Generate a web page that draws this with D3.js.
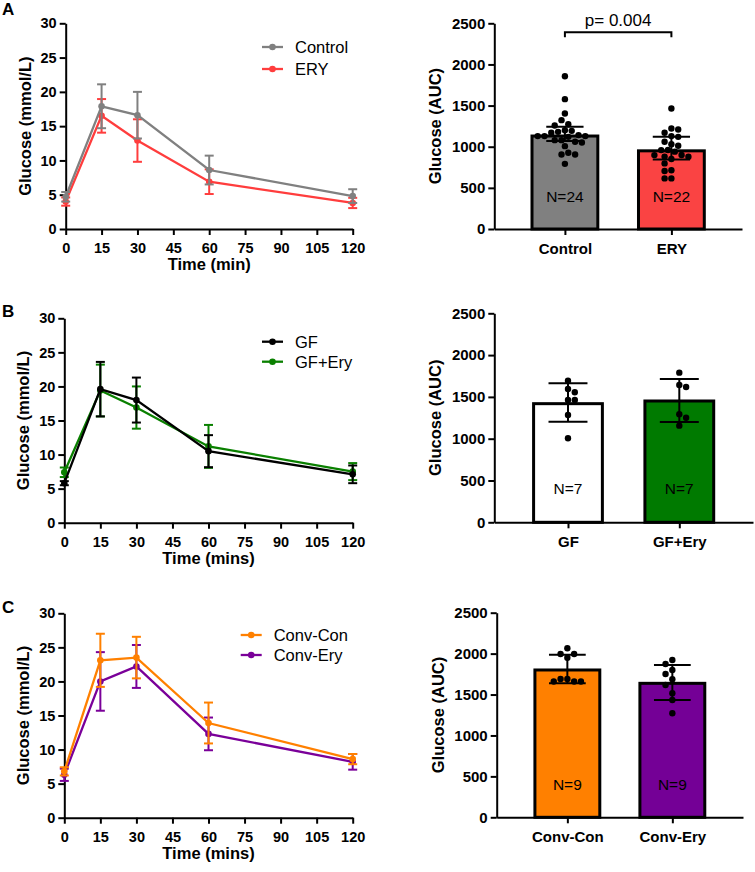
<!DOCTYPE html>
<html><head><meta charset="utf-8">
<script src="https://cdn.jsdelivr.net/npm/d3@7"></script>
<style>body{margin:0;background:#fff} svg{display:block}</style>
</head><body>
<svg id="chart" width="755" height="872"></svg>
<script>
// ---------------- DATA ----------------
const times = [0, 15, 30, 60, 120];
const timeTicks = [0, 15, 30, 45, 60, 75, 90, 105, 120];
const glucoseTicks = [0, 5, 10, 15, 20, 25, 30];
const aucTicks = [0, 500, 1000, 1500, 2000, 2500];

// Panel A (line)
const controlMean = [4.7, 17.9, 16.6, 8.6, 4.8];
const controlSD   = [0.7, 3.2, 3.4, 2.1, 1.0];
const eryMean     = [4.0, 16.5, 12.9, 6.9, 3.8];
const erySD       = [0.6, 2.45, 3.1, 1.8, 0.75];
// Panel B (line)
const gfMean      = [5.8, 19.6, 18.0, 10.5, 7.1];
const gfSD        = [0.3, 4.0, 3.3, 2.35, 1.3];
const gfEryMean   = [7.4, 19.4, 16.9, 11.2, 7.5];
const gfErySD     = [0.7, 3.8, 3.1, 3.15, 1.25];
// Panel C (line)
const convConMean = [6.8, 23.1, 23.5, 13.9, 8.6];
const convConSD   = [0.6, 3.9, 3.05, 3.0, 0.75];
const convEryMean = [6.3, 20.0, 22.2, 12.3, 8.2];
const convErySD   = [0.9, 4.3, 3.15, 2.4, 1.15];

// Panel A (bar)
const barCatsA = ["Control", "ERY"];
const barMeansA = [1130, 950];
const barLowA = [1068, 846];
const barHighA = [1242, 1120];
const barNA = [24, 22];
const controlAUC = [1857,1578,1404,1323,1274,1258,1193,1181,1201,1169,1129,1141,1129,1120,1129,1052,1080,1080,1060,1007,926,906,906,792];
const eryAUC = [1465,1222,1210,1169,1129,1120,1060,1031,1011,960,959,940,900,898,880,878,850,797,714,704,615,615];
const pValueA = "p= 0.004";
// Panel B (bar)
const barCatsB = ["GF", "GF+Ery"];
const barMeansB = [1419, 1451];
const barLowB = [1203, 1200];
const barHighB = [1663, 1714];
const barNB = [7, 7];
const gfAUC = [1694,1594,1555,1463,1463,1283,1005];
const gfEryAUC = [1790,1642,1618,1292,1251,1156];
// Panel C (bar)
const barCatsC = ["Conv-Con", "Conv-Ery"];
const barMeansC = [1800, 1637];
const barLowC = [1637, 1433];
const barHighC = [1987, 1861];
const barNC = [9, 9];
const convConAUC = [2065,1995,1995,1950,1690,1690,1660,1660,1660];
const convEryAUC = [1922,1873,1800,1751,1686,1616,1515,1433,1271];

// ---------------- STYLE / LAYOUT ----------------
const FONT = "'Liberation Sans', Arial, Helvetica, sans-serif";
const svg = d3.select("#chart").style("font-family", FONT);

function styleAxis(a, fs) {
  a.select(".domain").attr("stroke", "#000").attr("stroke-width", 2);
  a.selectAll(".tick line").attr("stroke", "#000").attr("stroke-width", 2);
  a.selectAll(".tick text").attr("fill", "#000").style("font-size", fs + "px")
    .style("font-weight", "bold").style("font-family", FONT);
}

function drawLine(L, series, xTitle, letter) {
  const g = svg.append("g");
  const x = d3.scaleLinear().domain([0, 120]).range([L.x0, L.x1]);
  const y = d3.scaleLinear().domain([0, 30]).range([L.y0, L.y1]);

  const ya = g.append("g").attr("transform", `translate(${L.x0},0)`)
    .call(d3.axisLeft(y).tickValues(glucoseTicks).tickSize(6).tickSizeOuter(0).tickPadding(3));
  styleAxis(ya, 14.5);
  const xa = g.append("g").attr("transform", `translate(0,${L.y0})`)
    .call(d3.axisBottom(x).tickValues(timeTicks).tickSize(6).tickSizeOuter(0).tickPadding(8));
  styleAxis(xa, 14.5);

  series.slice().reverse().forEach(s => {
    const sg = g.append("g");
    const cap = 4.5;
    times.forEach((t, i) => {
      const cx = x(t), yt = y(s.mean[i] + s.sd[i]), yb = y(s.mean[i] - s.sd[i]);
      sg.append("line").attr("x1", cx).attr("x2", cx).attr("y1", yt).attr("y2", yb)
        .attr("stroke", s.color).attr("stroke-width", 2);
      [yt, yb].forEach(yy => sg.append("line").attr("x1", cx - cap).attr("x2", cx + cap)
        .attr("y1", yy).attr("y2", yy).attr("stroke", s.color).attr("stroke-width", 2));
    });
    sg.append("path").datum(times.map((t, i) => [t, s.mean[i]]))
      .attr("d", d3.line().x(d => x(d[0])).y(d => y(d[1])))
      .attr("fill", "none").attr("stroke", s.color).attr("stroke-width", 2.3);
    sg.selectAll("circle").data(times.map((t, i) => [t, s.mean[i]])).join("circle")
      .attr("cx", d => x(d[0])).attr("cy", d => y(d[1])).attr("r", 3.3).attr("fill", s.color);
  });

  // legend
  series.forEach((s, i) => {
    const ly = L.legY + i * L.legGap;
    g.append("line").attr("x1", L.legX).attr("x2", L.legX + 21).attr("y1", ly).attr("y2", ly)
      .attr("stroke", s.color).attr("stroke-width", 2.3);
    g.append("circle").attr("cx", L.legX + 10.5).attr("cy", ly).attr("r", 3.3).attr("fill", s.color);
    g.append("text").attr("x", L.legX + 33).attr("y", ly).attr("dy", "0.36em")
      .style("font-size", "16.5px").attr("fill", "#000").text(s.name);
  });

  g.append("text").attr("x", (L.x0 + L.x1) / 2).attr("y", L.y0 + 41)
    .attr("text-anchor", "middle").style("font-size", "16.5px").style("font-weight", "bold").text(xTitle);
  g.append("text").attr("transform", `translate(${L.x0 - 35},${(L.y0 + L.y1) / 2}) rotate(-90)`)
    .attr("text-anchor", "middle").style("font-size", "16.5px").style("font-weight", "bold")
    .text("Glucose (mmol/L)");
  g.append("text").attr("x", 2).attr("y", L.letterY).style("font-size", "17px")
    .style("font-weight", "bold").text(letter);
}

// GraphPad-like scatter: lattice columns, nearest free column to the centre
function swarm(values, y, cx, r) {
  const D = 2 * r + 0.3;
  const S = 3.4;
  const placed = [];
  const order = values.map((v, i) => i).sort((a, b) => values[b] - values[a]);
  order.forEach((i, n) => {
    const py = y(values[i]);
    let off = 0;
    const sgn = n % 2 === 0 ? 1 : -1;
    for (let k = 0; k < 60; k++) {
      const o = (k === 0 ? 0 : (k % 2 === 1 ? sgn : -sgn) * Math.ceil(k / 2) * S);
      if (placed.every(p => (p.x - o) ** 2 + (p.y - py) ** 2 >= D * D)) { off = o; break; }
    }
    placed.push({ x: off, y: py });
  });
  return placed.map(p => ({ x: cx + p.x, y: p.y }));
}

function drawBar(B, cats, means, lows, highs, ns, pts, fills, pText) {
  const g = svg.append("g");
  const x = d3.scalePoint().domain(cats).range([B.x0, B.x1]).padding(B.pad);
  const y = d3.scaleLinear().domain([0, 2500]).range([B.y0, B.y1]);
  const bw = x.step() * 0.618;
  const cw = x.step() * 0.35;

  cats.forEach((c, i) => {
    g.append("rect").attr("x", x(c) - bw / 2).attr("y", y(means[i]))
      .attr("width", bw).attr("height", y(0) - y(means[i]))
      .attr("fill", fills[i]).attr("stroke", "#000").attr("stroke-width", 3);
    g.append("text").attr("x", x(c)).attr("y", y(400)).attr("dy", "0.36em")
      .attr("text-anchor", "middle").style("font-size", "15.5px").attr("fill", "#000")
      .text("N=" + ns[i]);
  });

  const ya = g.append("g").attr("transform", `translate(${B.x0},0)`)
    .call(d3.axisLeft(y).tickValues(aucTicks).tickFormat(d3.format("d")).tickSize(6).tickSizeOuter(0).tickPadding(3));
  styleAxis(ya, 15);
  const xa = g.append("g").attr("transform", `translate(0,${B.y0})`)
    .call(d3.axisBottom(x).tickSize(6).tickSizeOuter(0).tickPadding(8));
  styleAxis(xa, 15);

  cats.forEach((c, i) => {
    swarm(pts[i], y, x(c), 3.2).forEach(p =>
      g.append("circle").attr("cx", p.x).attr("cy", p.y).attr("r", 3.2).attr("fill", "#000"));
  });
  cats.forEach((c, i) => {
    const cx = x(c);
    g.append("line").attr("x1", cx).attr("x2", cx).attr("y1", y(highs[i])).attr("y2", y(lows[i]))
      .attr("stroke", "#000").attr("stroke-width", 2);
    [highs[i], lows[i]].forEach(v => g.append("line").attr("x1", cx - cw / 2).attr("x2", cx + cw / 2)
      .attr("y1", y(v)).attr("y2", y(v)).attr("stroke", "#000").attr("stroke-width", 2));
  });

  if (pText) {
    const by = B.y1 + 9;
    const xa0 = x(cats[0]), xa1 = x(cats[1]);
    g.append("path").attr("d", `M${xa0},${by + 5}V${by}H${xa1}V${by + 5}`)
      .attr("fill", "none").attr("stroke", "#000").attr("stroke-width", 2);
    g.append("text").attr("x", (xa0 + xa1) / 2).attr("y", by - 6).attr("text-anchor", "middle")
      .style("font-size", "17px").text(pText);
  }

  g.append("text").attr("transform", `translate(${B.x0 - 53},${(B.y0 + B.y1) / 2}) rotate(-90)`)
    .attr("text-anchor", "middle").style("font-size", "16.5px").style("font-weight", "bold")
    .text("Glucose (AUC)");
}

// ---------------- DRAW ----------------
drawLine({ x0: 65.7, x1: 352.7, y0: 229, y1: 23.3, legX: 262, legY: 47, legGap: 22, letterY: 15 },
  [{ name: "Control", mean: controlMean, sd: controlSD, color: "#808080" },
   { name: "ERY", mean: eryMean, sd: erySD, color: "#ff3d3d" }], "Time (min)", "A");
drawLine({ x0: 64.3, x1: 352.7, y0: 522.7, y1: 318.3, legX: 262, legY: 341.7, legGap: 20, letterY: 317 },
  [{ name: "GF", mean: gfMean, sd: gfSD, color: "#000000" },
   { name: "GF+Ery", mean: gfEryMean, sd: gfErySD, color: "#0a8000" }], "Time (mins)", "B");
drawLine({ x0: 64.3, x1: 352.7, y0: 817.7, y1: 613.3, legX: 240.7, legY: 635, legGap: 20, letterY: 613 },
  [{ name: "Conv-Con", mean: convConMean, sd: convConSD, color: "#ff8000" },
   { name: "Conv-Ery", mean: convEryMean, sd: convErySD, color: "#7a0099" }], "Time (mins)", "C");

drawBar({ x0: 494.3, x1: 742, pad: 0.663, y0: 229, y1: 23.3 }, barCatsA, barMeansA, barLowA, barHighA, barNA,
  [controlAUC, eryAUC], ["#808080", "#fa4343"], pValueA);
drawBar({ x0: 494.3, x1: 753, pad: 0.662, y0: 522.3, y1: 313.3 }, barCatsB, barMeansB, barLowB, barHighB, barNB,
  [gfAUC, gfEryAUC], ["#ffffff", "#007a00"], null);
drawBar({ x0: 496.7, x1: 743, pad: 0.673, y0: 817.3, y1: 612.7 }, barCatsC, barMeansC, barLowC, barHighC, barNC,
  [convConAUC, convEryAUC], ["#ff8000", "#740096"], null);
</script>
</body></html>
